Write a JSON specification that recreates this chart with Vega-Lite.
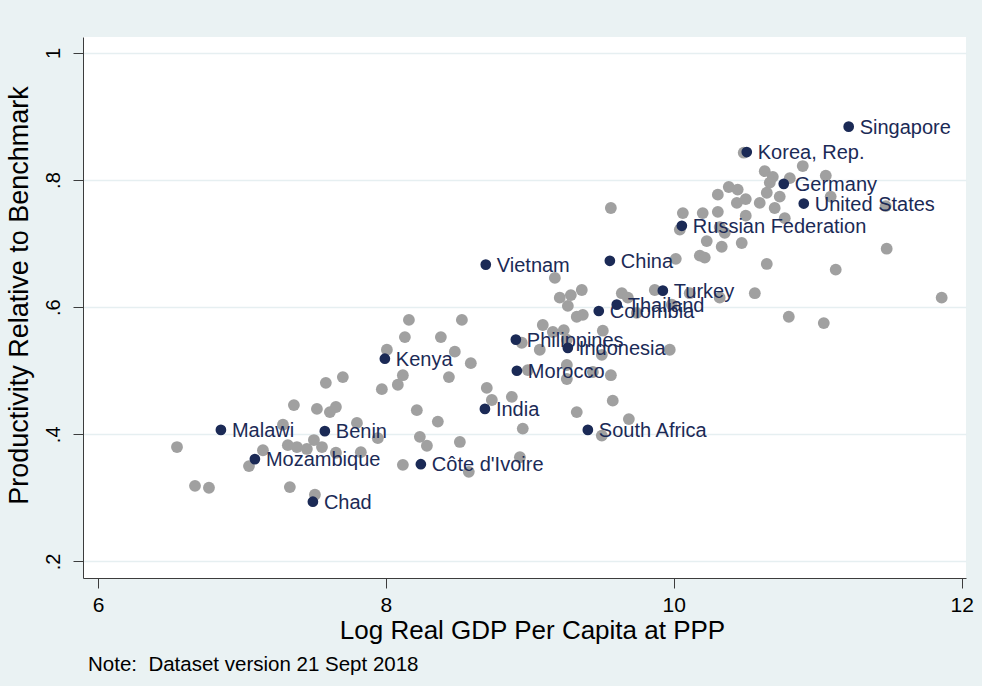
{
  "$schema": "https://vega.github.io/schema/vega-lite/v6.json",
  "width": 883,
  "height": 541,
  "autosize": {"type": "none"},
  "padding": {"left": 83, "top": 37, "right": 16, "bottom": 108},
  "background": "#eaf2f3",
  "config": {"view": {"fill": "white", "stroke": null}, "font": "Liberation Sans"},
  "title": {"text": "Note:\u00a0 Dataset version 21 Sept 2018", "orient": "bottom", "anchor": "start", "frame": "group", "dx": 5, "offset": 12, "fontSize": 20.5, "fontWeight": "normal", "color": "#000000", "font": "Liberation Sans"},
  "datasets": {
    "gray": [
      {"x": 6.549, "y": 0.380}, {"x": 6.674, "y": 0.319}, {"x": 6.771, "y": 0.316}, {"x": 7.049, "y": 0.350},
      {"x": 7.146, "y": 0.375}, {"x": 7.285, "y": 0.415}, {"x": 7.361, "y": 0.446}, {"x": 7.333, "y": 0.317},
      {"x": 7.507, "y": 0.305}, {"x": 7.521, "y": 0.440}, {"x": 7.583, "y": 0.481}, {"x": 7.701, "y": 0.490},
      {"x": 7.611, "y": 0.435}, {"x": 7.653, "y": 0.443}, {"x": 7.319, "y": 0.383}, {"x": 7.382, "y": 0.380},
      {"x": 7.451, "y": 0.377}, {"x": 7.500, "y": 0.391}, {"x": 7.556, "y": 0.380}, {"x": 7.653, "y": 0.371},
      {"x": 7.799, "y": 0.418}, {"x": 7.826, "y": 0.372}, {"x": 7.944, "y": 0.394}, {"x": 8.007, "y": 0.533},
      {"x": 8.132, "y": 0.553}, {"x": 8.160, "y": 0.580}, {"x": 8.382, "y": 0.553}, {"x": 8.479, "y": 0.530},
      {"x": 8.528, "y": 0.580}, {"x": 8.590, "y": 0.512}, {"x": 8.118, "y": 0.493}, {"x": 8.083, "y": 0.478},
      {"x": 7.972, "y": 0.471}, {"x": 8.438, "y": 0.490}, {"x": 8.215, "y": 0.438}, {"x": 8.361, "y": 0.420},
      {"x": 8.236, "y": 0.396}, {"x": 8.285, "y": 0.382}, {"x": 8.514, "y": 0.388}, {"x": 8.118, "y": 0.352},
      {"x": 8.576, "y": 0.341}, {"x": 8.701, "y": 0.473}, {"x": 8.736, "y": 0.454}, {"x": 8.875, "y": 0.459},
      {"x": 8.951, "y": 0.409}, {"x": 8.931, "y": 0.364}, {"x": 8.944, "y": 0.544}, {"x": 8.986, "y": 0.501},
      {"x": 9.563, "y": 0.756}, {"x": 9.174, "y": 0.646}, {"x": 9.208, "y": 0.615}, {"x": 9.285, "y": 0.619},
      {"x": 9.361, "y": 0.627}, {"x": 9.264, "y": 0.602}, {"x": 9.326, "y": 0.585}, {"x": 9.368, "y": 0.588},
      {"x": 9.090, "y": 0.572}, {"x": 9.160, "y": 0.561}, {"x": 9.236, "y": 0.564}, {"x": 9.069, "y": 0.533},
      {"x": 9.257, "y": 0.509}, {"x": 9.507, "y": 0.563}, {"x": 9.438, "y": 0.498}, {"x": 9.563, "y": 0.493},
      {"x": 9.639, "y": 0.622}, {"x": 9.681, "y": 0.615}, {"x": 9.257, "y": 0.487}, {"x": 9.500, "y": 0.525},
      {"x": 9.576, "y": 0.453}, {"x": 9.326, "y": 0.435}, {"x": 9.688, "y": 0.424}, {"x": 9.500, "y": 0.398},
      {"x": 9.257, "y": 0.549}, {"x": 9.972, "y": 0.533}, {"x": 9.868, "y": 0.627}, {"x": 10.111, "y": 0.622},
      {"x": 10.319, "y": 0.615}, {"x": 9.743, "y": 0.591}, {"x": 9.986, "y": 0.604}, {"x": 10.014, "y": 0.676},
      {"x": 10.042, "y": 0.722}, {"x": 10.063, "y": 0.748}, {"x": 10.201, "y": 0.748}, {"x": 10.306, "y": 0.750},
      {"x": 10.306, "y": 0.777}, {"x": 10.382, "y": 0.789}, {"x": 10.444, "y": 0.785}, {"x": 10.500, "y": 0.770},
      {"x": 10.438, "y": 0.764}, {"x": 10.632, "y": 0.814}, {"x": 10.688, "y": 0.805}, {"x": 10.806, "y": 0.803},
      {"x": 10.646, "y": 0.780}, {"x": 10.736, "y": 0.774}, {"x": 10.701, "y": 0.756}, {"x": 10.597, "y": 0.764},
      {"x": 10.771, "y": 0.740}, {"x": 10.500, "y": 0.744}, {"x": 10.319, "y": 0.726}, {"x": 10.354, "y": 0.717},
      {"x": 10.229, "y": 0.704}, {"x": 10.472, "y": 0.701}, {"x": 10.333, "y": 0.695}, {"x": 10.181, "y": 0.681},
      {"x": 10.215, "y": 0.678}, {"x": 10.646, "y": 0.668}, {"x": 10.563, "y": 0.622}, {"x": 10.799, "y": 0.585},
      {"x": 11.042, "y": 0.575}, {"x": 10.896, "y": 0.822}, {"x": 11.056, "y": 0.807}, {"x": 11.090, "y": 0.774},
      {"x": 11.472, "y": 0.759}, {"x": 11.479, "y": 0.692}, {"x": 11.125, "y": 0.659}, {"x": 11.861, "y": 0.615},
      {"x": 10.667, "y": 0.796}, {"x": 10.486, "y": 0.843}
    ],
    "labeled": [
      {"x": 11.215, "y": 0.884, "country": "Singapore"},
      {"x": 10.507, "y": 0.844, "country": "Korea, Rep."},
      {"x": 10.764, "y": 0.794, "country": "Germany"},
      {"x": 10.903, "y": 0.763, "country": "United States"},
      {"x": 10.056, "y": 0.728, "country": "Russian Federation"},
      {"x": 8.694, "y": 0.667, "country": "Vietnam"},
      {"x": 9.556, "y": 0.673, "country": "China"},
      {"x": 9.924, "y": 0.626, "country": "Turkey"},
      {"x": 9.604, "y": 0.604, "country": "Thailand"},
      {"x": 9.479, "y": 0.594, "country": "Colombia"},
      {"x": 8.903, "y": 0.549, "country": "Philippines"},
      {"x": 9.264, "y": 0.536, "country": "Indonesia"},
      {"x": 7.993, "y": 0.519, "country": "Kenya"},
      {"x": 8.910, "y": 0.500, "country": "Morocco"},
      {"x": 8.688, "y": 0.440, "country": "India"},
      {"x": 9.403, "y": 0.407, "country": "South Africa"},
      {"x": 6.854, "y": 0.407, "country": "Malawi"},
      {"x": 7.576, "y": 0.405, "country": "Benin"},
      {"x": 7.090, "y": 0.361, "country": "Mozambique"},
      {"x": 8.243, "y": 0.353, "country": "Côte d'Ivoire"},
      {"x": 7.493, "y": 0.294, "country": "Chad"}
    ]
  },
  "encoding": {
    "x": {
      "field": "x", "type": "quantitative",
      "scale": {"domain": [5.896, 12.03], "nice": false, "zero": false},
      "axis": {
        "title": "Log Real GDP Per Capita at PPP", "values": [6, 8, 10, 12], "format": "d",
        "grid": false, "domainColor": "#3c3c3c", "tickColor": "#3c3c3c", "tickSize": 10,
        "labelFontSize": 21, "labelColor": "#000000", "labelPadding": 6, "labelFont": "Liberation Sans",
        "titleFontSize": 26, "titleFontWeight": "normal", "titleColor": "#000000", "titlePadding": 2, "titleFont": "Liberation Sans",
        "titleX": 449
      }
    },
    "y": {
      "field": "y", "type": "quantitative",
      "scale": {"domain": [0.174, 1.025], "nice": false, "zero": false},
      "axis": {
        "title": "Productivity Relative to Benchmark", "values": [0.2, 0.4, 0.6, 0.8, 1],
        "labelExpr": "datum.value > 0.95 ? '1' : '.' + format(round(datum.value * 10), 'd')",
        "grid": true, "gridColor": "#e6eff1", "gridWidth": 1.5,
        "domainColor": "#3c3c3c", "tickColor": "#3c3c3c", "tickSize": 10,
        "labelAngle": -90, "labelAlign": "center", "labelBaseline": "alphabetic", "labelPadding": 14,
        "labelFontSize": 20, "labelColor": "#000000", "labelFont": "Liberation Sans",
        "titleFontSize": 27, "titleFontWeight": "normal", "titleColor": "#000000", "titlePadding": 10, "titleFont": "Liberation Sans",
        "titleY": 258
      }
    }
  },
  "layer": [
    {"data": {"name": "gray"}, "mark": {"type": "circle", "size": 140, "color": "#a0a0a0", "opacity": 1}},
    {"data": {"name": "labeled"}, "mark": {"type": "circle", "size": 115, "color": "#1b2a56", "opacity": 1}},
    {"data": {"name": "labeled"}, "mark": {"type": "text", "align": "left", "baseline": "middle", "dx": 11, "dy": 1, "fontSize": 20, "color": "#1b2a56", "font": "Liberation Sans"}, "encoding": {"text": {"field": "country"}}}
  ]
}
